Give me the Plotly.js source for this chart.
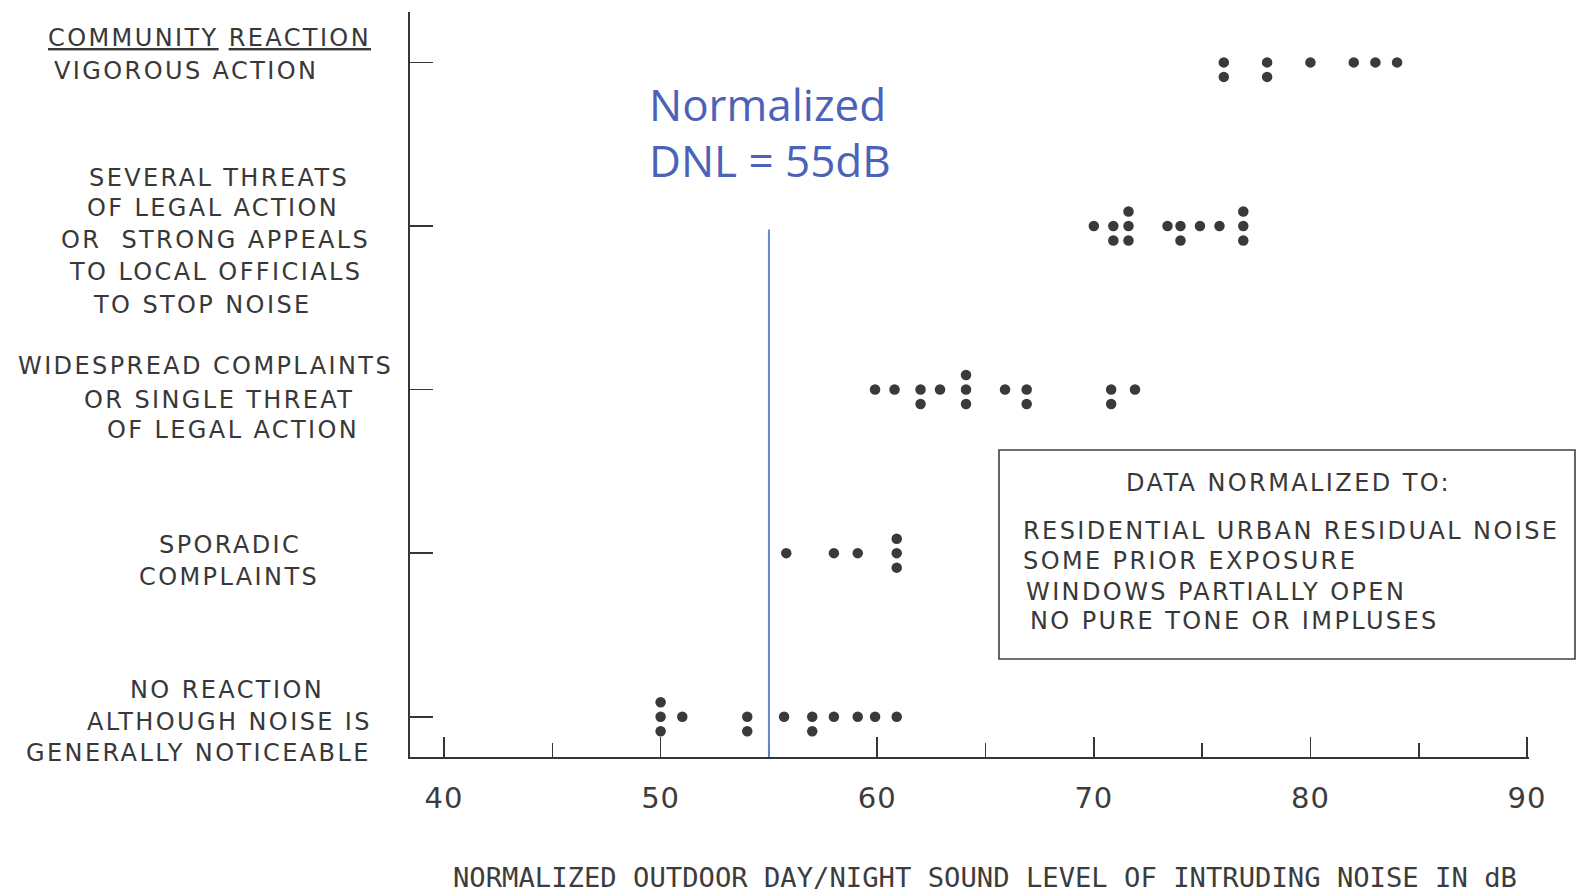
<!DOCTYPE html>
<html>
<head>
<meta charset="utf-8">
<script src="https://cdn.plot.ly/plotly-3.0.1.min.js"></script>
<style>
  html, body { margin: 0; padding: 0; background: #ffffff; }
  #chart { width: 1578px; height: 895px; }
  .annotation-text { letter-spacing: 2.4px; }
  .annotation[data-index="0"] .annotation-text,
  .annotation[data-index="1"] .annotation-text,
  .annotation[data-index="2"] .annotation-text { letter-spacing: 0px; }
  .xtick text { letter-spacing: 1px; }
</style>
</head>
<body>
<div id="chart"></div>
<script>
// ---------------- DATA ----------------
// Normalized outdoor day/night sound level (dB) of each case, per community reaction
const noReaction     = [50, 50, 50, 51, 54, 54, 55.7, 57, 57, 58, 59.1, 59.9, 60.9];
const sporadic       = [55.8, 58.0, 59.1, 60.9, 60.9, 60.9];
const widespread     = [59.9, 60.8, 62.0, 62.0, 62.9, 64.1, 64.1, 64.1, 65.9, 66.9, 66.9, 70.8, 70.8, 71.9];
const severalThreats = [70.0, 70.9, 70.9, 71.6, 71.6, 71.6, 73.4, 74.0, 74.0, 74.9, 75.8, 76.9, 76.9, 76.9];
const vigorous       = [76, 76, 78, 78, 80, 82, 83, 84];

const categoryLevels = [1, 2, 3, 4, 5];
const categoryLabels = [
  ['NO REACTION', 'ALTHOUGH NOISE IS', 'GENERALLY NOTICEABLE'],
  ['SPORADIC', 'COMPLAINTS'],
  ['WIDESPREAD COMPLAINTS', 'OR SINGLE THREAT', 'OF LEGAL ACTION'],
  ['SEVERAL THREATS', 'OF LEGAL ACTION', 'OR  STRONG APPEALS', 'TO LOCAL OFFICIALS', 'TO STOP NOISE'],
  ['VIGOROUS ACTION']
];
const headerLabel = '<u>COMMUNITY</u> <u>REACTION</u>';

const xTickVals   = [40, 50, 60, 70, 80, 90];
const xTickLabels = ['40', '50', '60', '70', '80', '90'];
const xAxisTitle  = 'NORMALIZED OUTDOOR DAY/NIGHT SOUND LEVEL OF INTRUDING NOISE IN dB';

const normalizedDNL = 55;
const noteLines = ['Normalized', 'DNL = 55dB'];
const boxTitle = 'DATA NORMALIZED TO:';
const boxLines = ['RESIDENTIAL URBAN RESIDUAL NOISE', 'SOME PRIOR EXPOSURE', 'WINDOWS PARTIALLY OPEN', 'NO PURE TONE OR IMPLUSES'];

// ---------------- LAYOUT GEOMETRY ----------------
const PL = 410, PR = 1529, PT = 12, PB = 757;
const fx = p => (p - PL) / (PR - PL);
const fy = p => (PB - p) / (PB - PT);
const X_RANGE = [38.43, 90.09];
const Y_RANGE = [0.754, 5.308];
const STACK = 0.0886; // vertical spacing of stacked identical values (axis units)

const ink = '#363636';
const textFont = { family: 'DejaVu Sans, sans-serif', size: 24, color: '#383838' };

// stacked y offsets for identical values
function stacked(values, level) {
  const counts = {}, idx = {};
  values.forEach(v => { counts[v] = (counts[v] || 0) + 1; });
  return values.map(v => {
    const n = counts[v];
    const i = idx[v] = (idx[v] === undefined ? 0 : idx[v] + 1);
    let off;
    if (n === 1) off = 0;
    else if (n === 2) off = [0, -1][i];
    else off = [1, 0, -1][i] || 0;
    return level + off * STACK;
  });
}

const series = [noReaction, sporadic, widespread, severalThreats, vigorous];
const traces = series.map((vals, k) => ({
  type: 'scatter',
  mode: 'markers',
  x: vals,
  y: stacked(vals, categoryLevels[k]),
  marker: { size: 10.5, color: '#3a3a3a' },
  showlegend: false,
  hoverinfo: 'x'
}));

// label line positions (pixel centres)
const labelPos = [
  [[227, 689.6], [229.5, 721.8], [198.3, 753]],
  [[230, 544.6], [228.5, 576.8]],
  [[205.3, 366.4], [218.9, 399.7], [233, 429.9]],
  [[219.4, 178.2], [213.4, 208.4], [215.9, 239.6], [215.4, 271.8], [202.8, 305]],
  [[186, 70.5]]
];

const annotations = [];
// 0,1: handwritten note; 2: x axis title (no extra letter-spacing)
annotations.push({ xref: 'paper', yref: 'paper', x: fx(767), y: fy(104), text: noteLines[0],
  showarrow: false, xanchor: 'center', yanchor: 'middle',
  font: { family: 'Open Sans, sans-serif', size: 44, color: '#4a63b8' } });
annotations.push({ xref: 'paper', yref: 'paper', x: fx(770), y: fy(160), text: noteLines[1],
  showarrow: false, xanchor: 'center', yanchor: 'middle',
  font: { family: 'Open Sans, sans-serif', size: 44, color: '#4a63b8' } });
annotations.push({ xref: 'paper', yref: 'paper', x: fx(985), y: fy(877), text: xAxisTitle,
  showarrow: false, xanchor: 'center', yanchor: 'middle',
  font: { family: 'DejaVu Sans Mono, monospace', size: 27.2, color: '#3c3c3c' } });

annotations.push({ xref: 'paper', yref: 'paper', x: fx(209), y: fy(38.3), text: headerLabel,
  showarrow: false, xanchor: 'center', yanchor: 'middle', font: textFont });
categoryLabels.forEach((lines, k) => {
  lines.forEach((t, j) => {
    const p = labelPos[k][j];
    annotations.push({ xref: 'paper', yref: 'paper', x: fx(p[0]), y: fy(p[1]), text: t,
      showarrow: false, xanchor: 'center', yanchor: 'middle', font: textFont });
  });
});

// box texts
annotations.push({ xref: 'paper', yref: 'paper', x: fx(1288), y: fy(483), text: boxTitle,
  showarrow: false, xanchor: 'center', yanchor: 'middle', font: textFont });
const boxLinePos = [[1021, 530.5], [1021, 560.7], [1024, 591.9], [1028, 621.1]];
boxLines.forEach((t, j) => {
  annotations.push({ xref: 'paper', yref: 'paper', x: fx(boxLinePos[j][0]), y: fy(boxLinePos[j][1]), text: t,
    showarrow: false, xanchor: 'left', yanchor: 'middle', font: textFont });
});

const shapes = [
  { type: 'line', xref: 'x', yref: 'paper', x0: normalizedDNL, x1: normalizedDNL, y0: 0, y1: fy(229.5),
    line: { color: '#6485cc', width: 2 } },
  { type: 'rect', xref: 'paper', yref: 'paper', x0: fx(999), x1: fx(1575), y0: fy(659), y1: fy(450),
    line: { color: '#404040', width: 1.6 }, fillcolor: 'rgba(0,0,0,0)' }
];

const layout = {
  width: 1578, height: 895, autosize: false,
  margin: { l: PL, r: 1578 - PR, t: PT, b: 895 - PB, pad: 0 },
  paper_bgcolor: '#ffffff', plot_bgcolor: '#ffffff',
  showlegend: false,
  xaxis: {
    range: X_RANGE, showgrid: false, zeroline: false,
    showline: true, linecolor: ink, linewidth: 2,
    tickmode: 'array', tickvals: xTickVals, ticktext: xTickLabels,
    ticks: 'inside', ticklen: 20, tickwidth: 1.5, tickcolor: ink,
    ticklabelstandoff: 14,
    tickfont: { family: 'DejaVu Sans, sans-serif', size: 29, color: '#3c3c3c' },
    minor: { tickmode: 'linear', tick0: 40, dtick: 5, ticks: 'inside', ticklen: 14, tickwidth: 1.5, tickcolor: ink, showgrid: false }
  },
  yaxis: {
    range: Y_RANGE, showgrid: false, zeroline: false,
    showline: true, linecolor: ink, linewidth: 2,
    tickmode: 'array', tickvals: categoryLevels, showticklabels: false,
    ticks: 'inside', ticklen: 23, tickwidth: 1.5, tickcolor: ink
  },
  shapes: shapes,
  annotations: annotations
};

Plotly.newPlot('chart', traces, layout, { displayModeBar: false, staticPlot: true });
</script>
</body>
</html>
